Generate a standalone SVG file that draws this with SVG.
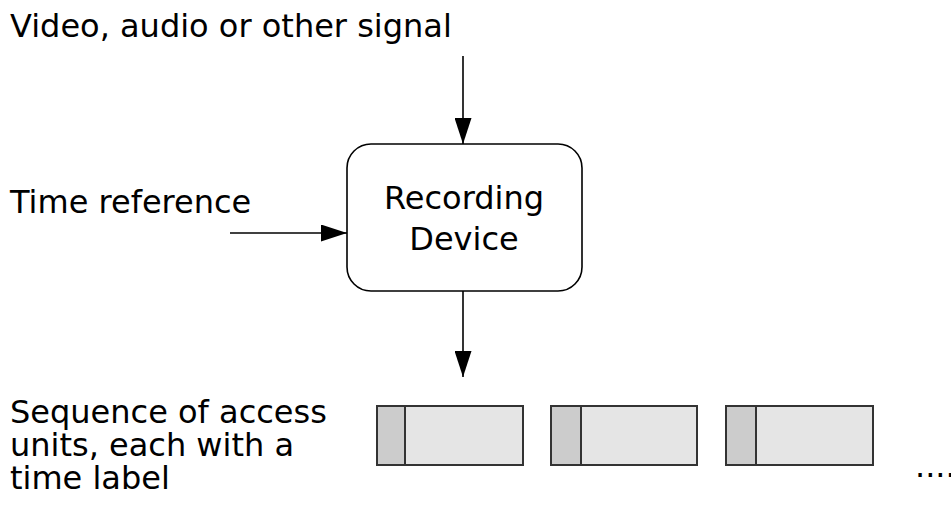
<svg xmlns="http://www.w3.org/2000/svg" width="951" height="511" viewBox="0 0 951 511">
<style>
text{font-family:"DejaVu Sans",sans-serif;font-size:32px;fill:#000}
.c{stroke:#000;stroke-width:1.6;fill:none}
.unit{stroke:#333;stroke-width:2}
.lab{fill:#cccccc}
.body{fill:#e5e5e5}
</style>
<defs>
<marker id="ah" viewBox="0 0 26 17" refX="26" refY="8.5" markerWidth="26" markerHeight="17" markerUnits="userSpaceOnUse" orient="auto">
<path d="M0,0 L26,8.5 L0,17 Z" fill="#000"/>
</marker>
</defs>
<rect width="951" height="511" fill="#fff"/>
<g id="signal-label"><text x="10" y="37">Video, audio or other signal</text></g>
<g id="time-label"><text x="10" y="213">Time reference</text></g>
<g id="recording-device">
<rect x="347" y="144" width="235" height="147" rx="24" ry="24" fill="#fff" stroke="#000" stroke-width="1.6"/>
<text x="464" y="209" text-anchor="middle">Recording</text>
<text x="464" y="250" text-anchor="middle">Device</text>
</g>
<g id="connectors">
<line class="c" x1="463" y1="56" x2="463" y2="144" marker-end="url(#ah)"/>
<line class="c" x1="230" y1="233" x2="347" y2="233" marker-end="url(#ah)"/>
<line class="c" x1="463" y1="291" x2="463" y2="377" marker-end="url(#ah)"/>
</g>
<g id="sequence-label">
<text x="10" y="423">Sequence of access</text>
<text x="10" y="456">units, each with a</text>
<text x="10" y="489">time label</text>
</g>
<g id="unit1" class="unit">
<rect class="body" x="377" y="406" width="146" height="59"/>
<rect class="lab" x="377" y="406" width="28" height="59"/>
</g>
<g id="unit2" class="unit">
<rect class="body" x="551" y="406" width="146" height="59"/>
<rect class="lab" x="551" y="406" width="30" height="59"/>
</g>
<g id="unit3" class="unit">
<rect class="body" x="726" y="406" width="147" height="59"/>
<rect class="lab" x="726" y="406" width="30" height="59"/>
</g>
<g id="ellipsis"><text x="915" y="477">....</text></g>
</svg>
